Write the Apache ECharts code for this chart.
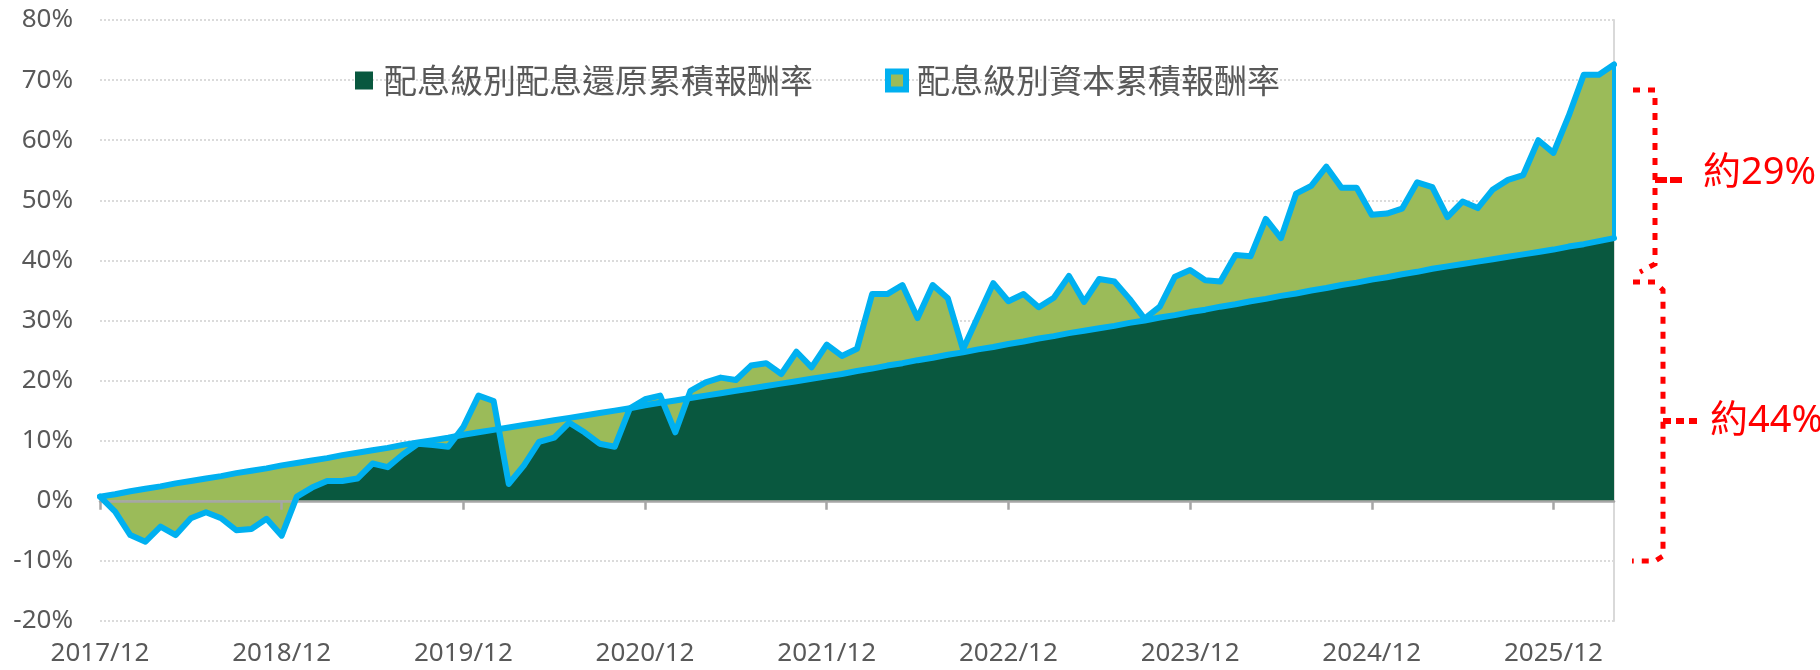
<!DOCTYPE html>
<html>
<head>
<meta charset="utf-8">
<script src="https://cdn.jsdelivr.net/npm/echarts@6/dist/echarts.min.js"></script>
<style>
  html, body { margin: 0; padding: 0; background: #ffffff; }
  #chart { width: 1820px; height: 670px; }
</style>
</head>
<body>
<div id="chart"></div>
<script>
// ---------------- data ----------------
const categories = [
  '2017/12',
  '2018/01','2018/02','2018/03','2018/04','2018/05','2018/06','2018/07','2018/08','2018/09','2018/10','2018/11','2018/12',
  '2019/01','2019/02','2019/03','2019/04','2019/05','2019/06','2019/07','2019/08','2019/09','2019/10','2019/11','2019/12',
  '2020/01','2020/02','2020/03','2020/04','2020/05','2020/06','2020/07','2020/08','2020/09','2020/10','2020/11','2020/12',
  '2021/01','2021/02','2021/03','2021/04','2021/05','2021/06','2021/07','2021/08','2021/09','2021/10','2021/11','2021/12',
  '2022/01','2022/02','2022/03','2022/04','2022/05','2022/06','2022/07','2022/08','2022/09','2022/10','2022/11','2022/12',
  '2023/01','2023/02','2023/03','2023/04','2023/05','2023/06','2023/07','2023/08','2023/09','2023/10','2023/11','2023/12',
  '2024/01','2024/02','2024/03','2024/04','2024/05','2024/06','2024/07','2024/08','2024/09','2024/10','2024/11','2024/12',
  '2025/01','2025/02','2025/03','2025/04','2025/05','2025/06','2025/07','2025/08','2025/09','2025/10','2025/11','2025/12',
  '2026/01','2026/02','2026/03','2026/04'
];

// 配息級別資本累積報酬率 (%)
const capitalReturn = [
  0.7,
  -1.8, -5.7, -6.8, -4.3, -5.7, -2.9, -1.9, -2.9, -4.9, -4.7, -3.0, -5.8,
  0.7, 2.2, 3.3, 3.3, 3.7, 6.2, 5.6, 7.7, 9.5, 9.3, 9.0, 12.3,
  17.5, 16.6, 2.8, 5.9, 9.8, 10.5, 13.0, 11.4, 9.5, 9.0, 15.4, 16.9,
  17.5, 11.4, 18.3, 19.7, 20.5, 20.1, 22.5, 22.9, 21.1, 24.8, 22.2, 26.0,
  24.1, 25.3, 34.4, 34.4, 35.9, 30.4, 35.9, 33.7, 25.2, 30.7, 36.2, 33.2,
  34.4, 32.2, 33.8, 37.4, 33.1, 36.9, 36.5, 33.6, 30.3, 32.3, 37.3, 38.4,
  36.7, 36.5, 40.9, 40.7, 46.9, 43.7, 51.1, 52.4, 55.6, 52.1, 52.1, 47.6,
  47.8, 48.6, 53.0, 52.2, 47.2, 49.8, 48.7, 51.8, 53.4, 54.2, 60.0, 57.9,
  64.0, 70.9, 70.9, 72.6
];

// 配息級別配息還原累積報酬率 (%)
const totalReturn = [
  0.7,
  1.1, 1.6, 2.0, 2.4, 2.9, 3.3, 3.7, 4.1, 4.6, 5.0, 5.4, 5.9,
  6.3, 6.7, 7.1, 7.6, 8.0, 8.4, 8.8, 9.3, 9.7, 10.1, 10.5, 11.0,
  11.4, 11.8, 12.2, 12.6, 13.0, 13.4, 13.8, 14.2, 14.6, 15.0, 15.4, 15.9,
  16.3, 16.7, 17.1, 17.5, 17.9, 18.3, 18.7, 19.1, 19.5, 19.9, 20.3, 20.7,
  21.1, 21.6, 22.0, 22.5, 22.9, 23.4, 23.8, 24.3, 24.7, 25.2, 25.6, 26.1,
  26.5, 27.0, 27.4, 27.9, 28.3, 28.7, 29.1, 29.6, 30.0, 30.5, 30.9, 31.4,
  31.8, 32.3, 32.7, 33.2, 33.6, 34.1, 34.5, 35.0, 35.4, 35.9, 36.3, 36.8,
  37.2, 37.7, 38.1, 38.6, 39.0, 39.4, 39.8, 40.2, 40.6, 41.0, 41.4, 41.8,
  42.3, 42.7, 43.2, 43.7
];

const tickLabels = ['2017/12','2018/12','2019/12','2020/12','2021/12','2022/12','2023/12','2024/12','2025/12'];
const yTickLabels = ['-20%','-10%','0%','10%','20%','30%','40%','50%','60%','70%','80%'];

const NAME_TOTAL = '配息級別配息還原累積報酬率';
const NAME_CAP = '配息級別資本累積報酬率';

// ---------------- helpers ----------------
const OLIVE = '#9BBB59';
const DKGREEN = '#09583F';
const BLUE = '#00B0F0';
const GRAY_TXT = '#595959';
const FONT = "'Noto Sans', 'Noto Sans CJK TC', sans-serif";
const CJK_FONT = "'Noto Sans CJK TC', 'Noto Sans', sans-serif";

const capData = capitalReturn.map((v, i) => [i, v]);
const totData = totalReturn.map((v, i) => [i, v]);

// region that lies below both lines and above zero (exact polygon, with crossing points)
function lowerBand(c, t) {
  const pts = [];
  for (let i = 0; i < c.length; i++) {
    pts.push([i, Math.max(0, Math.min(c[i], t[i]))]);
    if (i < c.length - 1) {
      const dc = c[i + 1] - c[i], dt = t[i + 1] - t[i];
      const cand = [];
      const d0 = c[i] - t[i], d1 = c[i + 1] - t[i + 1];
      if (d0 * d1 < 0) cand.push(d0 / (d0 - d1));
      if (c[i] * c[i + 1] < 0) cand.push(c[i] / (c[i] - c[i + 1]));
      if (t[i] * t[i + 1] < 0) cand.push(t[i] / (t[i] - t[i + 1]));
      cand.sort((a, b) => a - b).forEach(f => {
        const cv = c[i] + dc * f, tv = t[i] + dt * f;
        pts.push([i + f, Math.max(0, Math.min(cv, tv))]);
      });
    }
  }
  return pts;
}

const tickPos = tickLabels.map(l => categories.indexOf(l));
const lastIdx = categories.length - 1;

const chart = echarts.init(document.getElementById('chart'), null, { renderer: 'canvas' });

const dotRed = { stroke: '#FF0000', lineWidth: 5, lineDash: [7, 8], fill: null };

const option = {
  animation: false,
  backgroundColor: '#ffffff',
  grid: { left: 100, right: 206, top: 20, bottom: 49, containLabel: false },
  legend: {
    left: 350,
    top: 59,
    itemWidth: 18,
    itemHeight: 18,
    itemGap: 72,
    icon: 'rect',
    selectedMode: false,
    textStyle: { fontSize: 33, color: GRAY_TXT, fontFamily: CJK_FONT, padding: [0, 0, 0, 6] },
    data: [
      { name: NAME_TOTAL, icon: 'rect', itemStyle: { color: DKGREEN, borderWidth: 0 } },
      { name: NAME_CAP, icon: 'rect', itemStyle: { color: OLIVE, borderColor: BLUE, borderWidth: 6 } }
    ]
  },
  xAxis: [
    {
      type: 'value', min: 0, max: lastIdx, interval: 12, position: 'bottom', z: 2,
      axisLine: { show: true, onZero: true, lineStyle: { color: '#A6A6A6', width: 2.5 } },
      axisTick: { show: true, length: 9, customValues: tickPos, lineStyle: { color: '#A6A6A6', width: 2.5 } },
      axisLabel: { show: false },
      splitLine: { show: false }
    },
    {
      type: 'value', min: 0, max: lastIdx, interval: 12, position: 'bottom',
      axisLine: { show: false, onZero: false },
      axisTick: { show: false },
      splitLine: { show: false },
      axisLabel: {
        show: true, customValues: tickPos, fontSize: 26, color: GRAY_TXT, fontFamily: FONT, margin: 20,
        formatter: v => (tickLabels.indexOf(categories[v]) >= 0 ? categories[v] : '')
      }
    }
  ],
  yAxis: [
    {
      type: 'value', min: -20, max: 80, interval: 10,
      axisLine: { show: false },
      axisTick: { show: false },
      axisLabel: {
        fontSize: 26, color: GRAY_TXT, fontFamily: FONT, margin: 27,
        formatter: v => yTickLabels[Math.round((v + 20) / 10)]
      },
      splitLine: { show: true, lineStyle: { color: '#CFCFCF', width: 1.5, type: [2, 2] } }
    },
    {
      type: 'value', min: -20, max: 80, interval: 10, position: 'right',
      axisLine: { show: true, onZero: false, lineStyle: { color: '#D9D9D9', width: 2 } },
      axisTick: { show: false },
      axisLabel: { show: false },
      splitLine: { show: false }
    }
  ],
  series: [
    {
      name: 'totalFill', type: 'line', data: totData, symbol: 'none', z: 1, silent: true,
      lineStyle: { width: 0 }, areaStyle: { color: OLIVE, opacity: 1 }
    },
    {
      name: NAME_CAP, type: 'line', data: capData, symbol: 'none', z: 1, silent: true,
      itemStyle: { color: OLIVE },
      lineStyle: { width: 0 }, areaStyle: { color: OLIVE, opacity: 1 }
    },
    {
      name: NAME_TOTAL, type: 'line', data: lowerBand(capitalReturn, totalReturn), symbol: 'none', z: 1, silent: true,
      itemStyle: { color: DKGREEN },
      lineStyle: { width: 0 }, areaStyle: { color: DKGREEN, opacity: 1 }
    },
    {
      name: 'totalLine', type: 'line', data: totData, symbol: 'none', z: 3, silent: true,
      lineStyle: { width: 6, color: BLUE, join: 'round', cap: 'round' }
    },
    {
      name: NAME_CAP, type: 'line', data: capData, symbol: 'none', z: 3, silent: true,
      itemStyle: { color: OLIVE },
      lineStyle: { width: 6, color: BLUE, join: 'round', cap: 'round' },
      markLine: {
        silent: true, symbol: ['none', 'none'], label: { show: false },
        lineStyle: { color: BLUE, width: 4, type: 'solid' },
        data: [[{ coord: [lastIdx, capitalReturn[lastIdx]] }, { coord: [lastIdx, totalReturn[lastIdx]] }]]
      }
    }
  ],
  graphic: [
    { type: 'polyline', silent: true, shape: { points: [[1633, 90], [1655, 90], [1655, 264], [1640, 272]] }, style: dotRed },
    { type: 'line', silent: true, shape: { x1: 1655, y1: 180, x2: 1682, y2: 180 }, style: { stroke: '#FF0000', lineWidth: 6, lineDash: [12, 3] } },
    { type: 'polyline', silent: true, shape: { points: [[1633, 282], [1655, 282], [1663, 290], [1663, 556], [1655, 561], [1632, 561]] }, style: dotRed },
    { type: 'line', silent: true, shape: { x1: 1663, y1: 421, x2: 1697, y2: 421 }, style: { stroke: '#FF0000', lineWidth: 6, lineDash: [8, 5] } },
    { type: 'text', silent: true, x: 1703, y: 173, style: { text: '約29%', fill: '#FF0000', fontSize: 38, fontFamily: FONT, verticalAlign: 'middle' } },
    { type: 'text', silent: true, x: 1710, y: 421, style: { text: '約44%', fill: '#FF0000', fontSize: 38, fontFamily: FONT, verticalAlign: 'middle' } }
  ]
};

chart.setOption(option);
</script>
</body>
</html>
